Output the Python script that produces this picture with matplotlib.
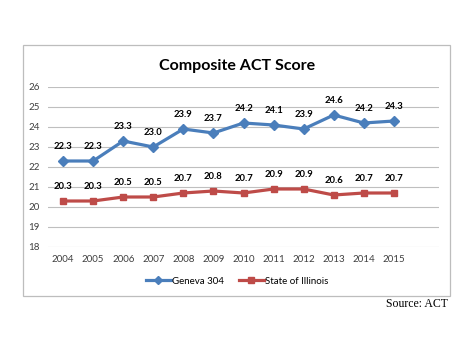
import matplotlib
matplotlib.use("Agg")
import matplotlib.pyplot as plt
from matplotlib.patches import Rectangle

years = ["2004", "2005", "2006", "2007", "2008", "2009",
         "2010", "2011", "2012", "2013", "2014", "2015"]
geneva = [22.3, 22.3, 23.3, 23.0, 23.9, 23.7, 24.2, 24.1, 23.9, 24.6, 24.2, 24.3]
illinois = [20.3, 20.3, 20.5, 20.5, 20.7, 20.8, 20.7, 20.9, 20.9, 20.6, 20.7, 20.7]
yticks = [18, 19, 20, 21, 22, 23, 24, 25, 26]

plt.rcParams["font.family"] = ["Lato", "DejaVu Sans"]

W, H = 474, 355
fig = plt.figure(figsize=(W / 100, H / 100), dpi=100)

# outer chart frame
fig.patches.append(Rectangle((23 / W, 1 - 296 / H), 427 / W, 251 / H,
                             transform=fig.transFigure, fill=False,
                             edgecolor="#BDBDBD", linewidth=0.9))

ax = fig.add_axes([48 / W, 1 - 247 / H, 391 / W, 160 / H])
x = list(range(len(years)))

ax.plot(x, geneva, color="#4A7EBB", linewidth=2.3, marker="D",
        markersize=5, label="Geneva 304")
ax.plot(x, illinois, color="#BE4B48", linewidth=2.3, marker="s",
        markersize=5, label="State of Illinois")

for i, v in enumerate(geneva):
    ax.annotate(f"{v:.1f}", (i, v), xytext=(0, 7), textcoords="offset points",
                ha="center", va="bottom", fontsize=6.8, fontweight="bold")
for i, v in enumerate(illinois):
    ax.annotate(f"{v:.1f}", (i, v), xytext=(0, 7), textcoords="offset points",
                ha="center", va="bottom", fontsize=6.8, fontweight="bold")

ax.set_xlim(-0.5, 12.5)
ax.set_ylim(18, 26)
ax.set_yticks(yticks)
ax.set_xticks(x)
ax.set_xticklabels(years)
ax.tick_params(axis="both", length=0, labelsize=7, colors="#404040", pad=6)
ax.grid(axis="y", color="#BFBFBF", linewidth=0.8)
ax.set_axisbelow(True)
for s in ax.spines.values():
    s.set_visible(False)

fig.text(237 / W, 1 - 66 / H, "Composite ACT Score", ha="center", va="center",
         fontsize=11.5, fontweight="bold")

fig.legend(loc="center", bbox_to_anchor=(237 / W, 1 - 281 / H), ncol=2,
           frameon=False, fontsize=7, handlelength=2.6, columnspacing=1.5,
           handletextpad=0.1, markerscale=0.8)

fig.text(448 / W, 1 - 304 / H, "Source: ACT", ha="right", va="center",
         fontsize=8.5, family="Liberation Serif")

fig.savefig("out.png", dpi=100)
